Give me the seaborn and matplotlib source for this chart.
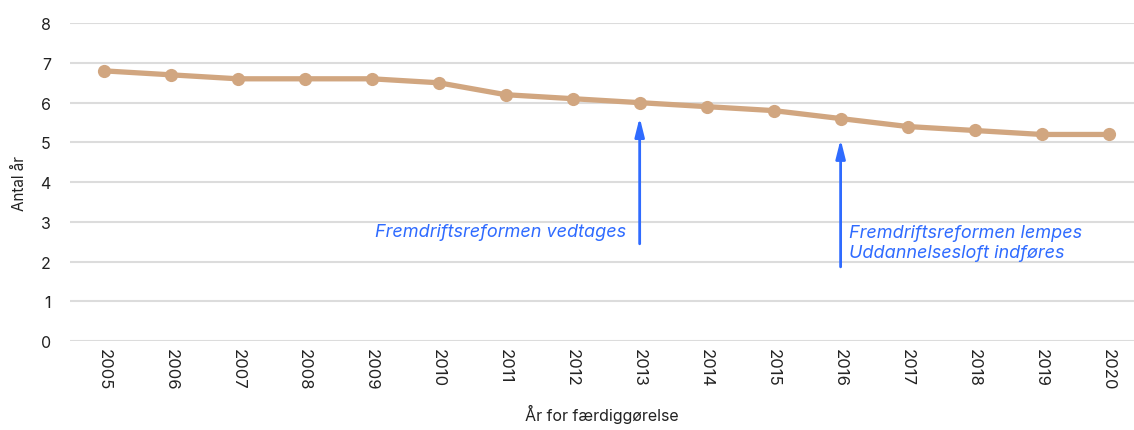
import matplotlib
matplotlib.use("Agg")
import matplotlib.pyplot as plt
import seaborn as sns
import pandas as pd

years = [2005, 2006, 2007, 2008, 2009, 2010, 2011, 2012,
         2013, 2014, 2015, 2016, 2017, 2018, 2019, 2020]
antal_aar = [6.8, 6.7, 6.6, 6.6, 6.6, 6.5, 6.2, 6.1,
             6.0, 5.9, 5.8, 5.6, 5.4, 5.3, 5.2, 5.2]

annot_years = [2013, 2016]
annot_texts = ["Fremdriftsreformen vedtages",
               "Fremdriftsreformen lempes\nUddannelsesloft indføres"]

sns.set_theme(style="white")
plt.rcParams['font.family'] = ['Inter', 'DejaVu Sans']

df = pd.DataFrame({"year": years, "value": antal_aar})

fig = plt.figure(figsize=(11.34, 4.31), dpi=100)
ax = fig.add_axes([0.062, 0.206, 0.938, 0.738])

line_col = "#d1a680"
sns.lineplot(data=df, x="year", y="value", color=line_col, lw=3.8,
             marker="o", markersize=9.5, markeredgewidth=0, ax=ax, clip_on=False)

ax.set_ylim(0, 8)
ax.set_xlim(2004.5, 2020.38)
ax.set_yticks(range(0, 9))
ax.set_xticks(years)
ax.set_xticklabels([str(y) for y in years], rotation=270, fontsize=12, color="#222222")
ax.tick_params(axis="y", labelsize=11.5, colors="#222222", length=0, pad=14)
ax.tick_params(axis="x", length=0, pad=5)
ax.grid(axis="y", color="#dcdcdc", lw=1.5)
ax.set_axisbelow(True)
for s in ax.spines.values():
    s.set_visible(False)

ax.set_xlabel("År for færdiggørelse", fontsize=11.5, color="#222222", labelpad=10.5)
ax.set_ylabel("Antal år", fontsize=11, color="#222222", labelpad=10)

blue = "#2f6bff"
# arrows pointing at the line
arrow_style = dict(arrowstyle="-|>,head_width=0.2,head_length=0.8",
                   color=blue, lw=2, mutation_scale=14)
ax.annotate("", xy=(annot_years[0], 5.7), xytext=(annot_years[0], 2.38),
            arrowprops=arrow_style)
ax.annotate("", xy=(annot_years[1], 5.15), xytext=(annot_years[1], 1.8),
            arrowprops=arrow_style)

ax.text(annot_years[0] - 0.2, 2.77, annot_texts[0], color=blue, fontsize=13,
        style="italic", ha="right", va="center")
ax.text(annot_years[1] + 0.13, 2.49, annot_texts[1], color=blue, fontsize=13,
        style="italic", ha="left", va="center", linespacing=1.2)

fig.savefig("out.png", dpi=100)
